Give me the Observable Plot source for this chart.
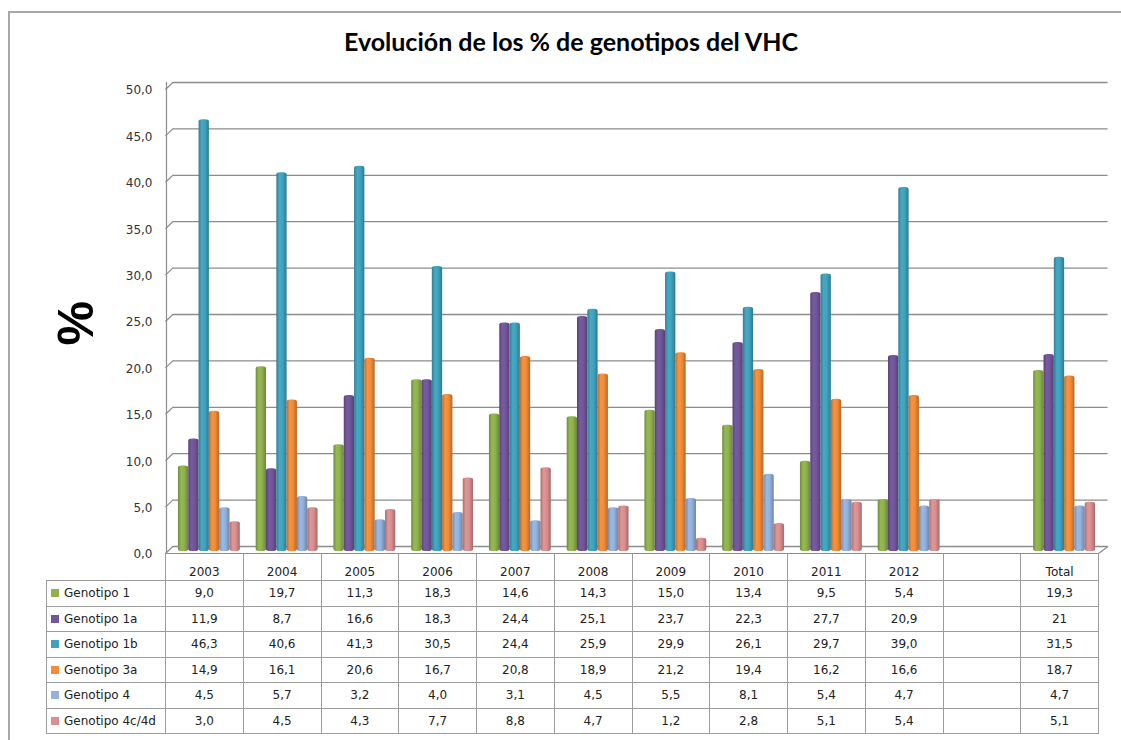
<!DOCTYPE html>
<html>
<head>
<meta charset="utf-8">
<script src="https://cdn.jsdelivr.net/npm/d3@7"></script>
<script src="https://cdn.jsdelivr.net/npm/@observablehq/plot@0.6"></script>
<style>
  body { margin: 0; background: #fff; }
  #wrap { position: relative; width: 1121px; height: 740px; overflow: hidden; background: #fff; }
  #frame { position: absolute; left: 8px; top: 11px; width: 1200px; height: 800px;
           border-left: 2px solid #a8a8a8; border-top: 2px solid #a8a8a8; }
  #title { position: absolute; left: 0; width: 1142px; top: 26px; text-align: center;
           font: bold 25px Lato, sans-serif; color: #000; }
  .layer { position: absolute; left: 0; top: 0; }
  #tbl { position: absolute; left: 46px; top: 553px; border-collapse: collapse; table-layout: fixed;
         width: 1052px; font: 12px "DejaVu Sans", sans-serif; color: #222; }
  #tbl td { border: 1px solid #9c9c9c; padding: 0; text-align: center; white-space: nowrap; overflow: hidden; height: 24.5px; }
  #tbl tr.head td { border-top: none; height: 26px; vertical-align: bottom; padding-bottom: 1px; }
  #tbl tr.head td.corner { border-left: none; border-right-color: #9c9c9c; }
  #tbl td.lab { text-align: left; padding-left: 4px; }
  #tbl td.lab span.sw { display: inline-block; width: 8px; height: 8px; margin-right: 5px; vertical-align: 0px; }
</style>
</head>
<body>
<div id="wrap">
  <div id="frame"></div>
  <div id="title">Evolución de los % de genotipos del VHC</div>
</div>
<script>
// ---------------- data ----------------
const categories = ["2003","2004","2005","2006","2007","2008","2009","2010","2011","2012"," ","Total"];
const seriesNames = ["Genotipo 1","Genotipo 1a","Genotipo 1b","Genotipo 3a","Genotipo 4","Genotipo 4c/4d"];
const genotipo1   = [9.0, 19.7, 11.3, 18.3, 14.6, 14.3, 15.0, 13.4, 9.5, 5.4, null, 19.3];
const genotipo1a  = [11.9, 8.7, 16.6, 18.3, 24.4, 25.1, 23.7, 22.3, 27.7, 20.9, null, 21];
const genotipo1b  = [46.3, 40.6, 41.3, 30.5, 24.4, 25.9, 29.9, 26.1, 29.7, 39.0, null, 31.5];
const genotipo3a  = [14.9, 16.1, 20.6, 16.7, 20.8, 18.9, 21.2, 19.4, 16.2, 16.6, null, 18.7];
const genotipo4   = [4.5, 5.7, 3.2, 4.0, 3.1, 4.5, 5.5, 8.1, 5.4, 4.7, null, 4.7];
const genotipo4cd = [3.0, 4.5, 4.3, 7.7, 8.8, 4.7, 1.2, 2.8, 5.1, 5.4, null, 5.1];
const totalText   = ["19,3", "21", "31,5", "18,7", "4,7", "5,1"];
const seriesColors = ["#8FB24E", "#72569A", "#41A2BD", "#F08C3A", "#93B1DB", "#D98F8F"];
const yTicks = [0, 5, 10, 15, 20, 25, 30, 35, 40, 45, 50];
const values = [genotipo1, genotipo1a, genotipo1b, genotipo3a, genotipo4, genotipo4cd];

// ---------------- layout ----------------
const W = 1121, H = 560, ML = 165, MR = 23, MT = 85, MB = 11;
const colW = (W - ML - MR) / categories.length;
const depthX = 8 / colW;      // wall depth in x units
const depthY = 0.75;          // wall depth in y units
const fmt = d => d.toFixed(1).replace(".", ",");
const wallStroke = "#8c8c8c";

const wrap = document.getElementById("wrap");

// background: walls, gridlines, axis labels
const bg = Plot.plot({
  width: W, height: H, marginLeft: ML, marginRight: MR, marginTop: MT, marginBottom: MB,
  style: { background: "transparent", overflow: "visible" },
  x: { type: "linear", domain: [0, categories.length], axis: null },
  y: { domain: [0, 50], axis: null },
  marks: [
    Plot.ruleY(yTicks, { x1: depthX * 0.9, x2: categories.length + depthX * 1.2, dy: -3, stroke: wallStroke, strokeWidth: 1.3 }),
    Plot.link(yTicks, { x1: 0, x2: depthX * 0.9, y1: d => d, y2: d => d + depthY, dy: 4, stroke: wallStroke, strokeWidth: 1.2 }),
    Plot.link([0], { x1: 0, x2: 0, y1: -0.45, y2: 50.4, dx: 1, stroke: wallStroke, strokeWidth: 1.2 }),
    Plot.ruleY([0], { x1: 0, x2: categories.length, dy: 4, stroke: wallStroke, strokeWidth: 1.2 }),
    Plot.link([0], { x1: categories.length, x2: categories.length + depthX * 1.2, y1: 0, y2: depthY, dy: 4, stroke: wallStroke, strokeWidth: 1.2 }),
    Plot.text(yTicks, { x: 0, y: d => d, text: fmt, textAnchor: "end", dx: -13, dy: 5,
      fontSize: 12, fontFamily: "DejaVu Sans", fill: "#333" }),
    Plot.text(["%"], { frameAnchor: "left", dx: -89, dy: 28, rotate: -90, fontSize: 50,
      fontWeight: "bold", fontFamily: "'Liberation Sans', Arial, sans-serif", fill: "#000" })
  ]
});
bg.classList.add("layer");
wrap.appendChild(bg);

// data table
const tbl = document.createElement("table");
tbl.id = "tbl";
let html = `<colgroup><col style="width:119px">` + categories.map(() => `<col style="width:${colW}px">`).join("") + `</colgroup>`;
html += `<tr class="head"><td class="corner"></td>` + categories.map(c => `<td>${c.trim()}</td>`).join("") + `</tr>`;
seriesNames.forEach((s, j) => {
  html += `<tr><td class="lab"><span class="sw" style="background:${seriesColors[j]}"></span>${s}</td>`;
  html += categories.map((c, i) => {
    const v = values[j][i];
    const t = c === "Total" ? totalText[j] : (v == null ? "" : fmt(v));
    return `<td>${t}</td>`;
  }).join("");
  html += `</tr>`;
});
tbl.innerHTML = html;
wrap.appendChild(tbl);

// bars (grouped via fx facets)
const rows = [];
seriesNames.forEach((s, j) => categories.forEach((c, i) => {
  const v = values[j][i];
  if (v != null) rows.push({ cat: c, series: s, j, value: v });
}));

const bars = Plot.plot({
  width: W, height: H, marginLeft: ML, marginRight: MR, marginTop: MT, marginBottom: MB,
  style: { background: "transparent", overflow: "visible" },
  facet: { data: rows, x: "cat" },
  fx: { domain: categories, padding: 0, round: false, axis: null, label: null },
  x: { domain: seriesNames, paddingInner: 0, paddingOuter: 0.77, round: false, axis: null },
  y: { domain: [0, 50], axis: null },
  color: { type: "identity" },
  marks: [
    Plot.barY(rows, { x: "series", y: "value", fill: d => `url(#cyl${d.j})`, dx: 5,
      insetBottom: -2, rx: 4, ry: 2 })
  ]
});
const ns = "http://www.w3.org/2000/svg";
const defs = document.createElementNS(ns, "defs");
seriesColors.forEach((c, j) => {
  const g = document.createElementNS(ns, "linearGradient");
  g.setAttribute("id", "cyl" + j);
  g.setAttribute("x1", "0"); g.setAttribute("x2", "1"); g.setAttribute("y1", "0"); g.setAttribute("y2", "0");
  const base = d3.color(c);
  [[0, base.darker(0.7)], [0.3, base.brighter(0.12)], [0.6, base], [1, base.darker(0.8)]].forEach(([o, col]) => {
    const st = document.createElementNS(ns, "stop");
    st.setAttribute("offset", o);
    st.setAttribute("stop-color", col.formatHex());
    g.appendChild(st);
  });
  defs.appendChild(g);
});
bars.insertBefore(defs, bars.firstChild);
bars.classList.add("layer");
wrap.appendChild(bars);
</script>
</body>
</html>
